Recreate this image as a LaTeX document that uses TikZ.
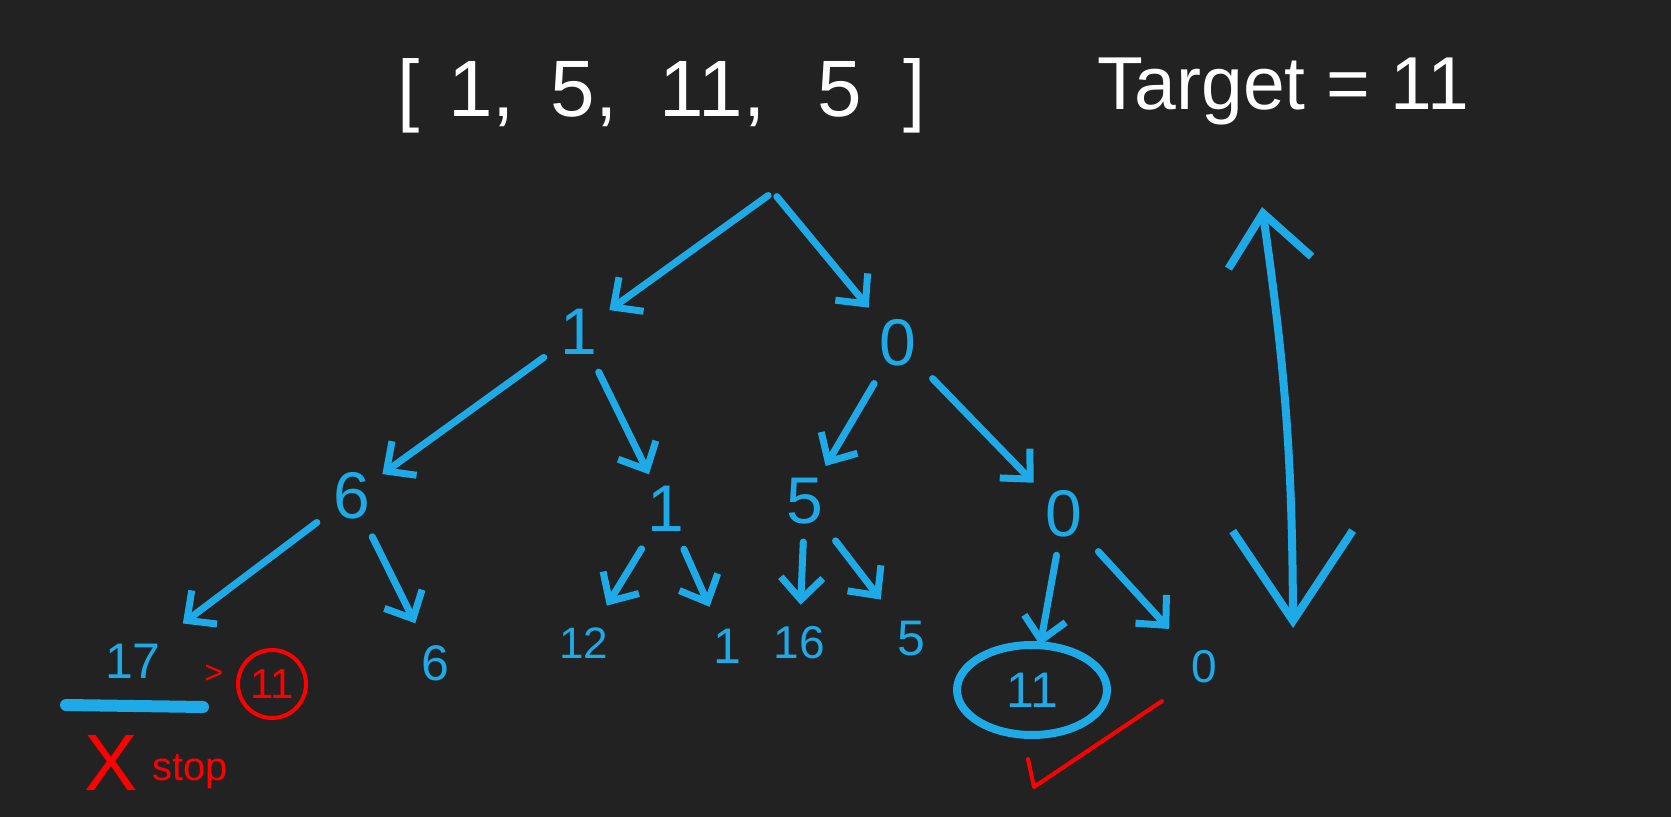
\documentclass[tikz,border=0pt]{standalone}
\usepackage{fontspec}
\setmainfont{Liberation Sans}
\usetikzlibrary{arrows.meta,shapes.geometric}
\definecolor{board}{RGB}{34,34,34}
\definecolor{chalkblue}{RGB}{29,170,230}
\definecolor{chalkred}{RGB}{255,0,0}
\tikzset{
	num/.style={text=chalkblue, font=\fontsize{33}{33}\selectfont, inner sep=3pt, outer sep=3pt},
	leaf/.style={text=chalkblue, font=\fontsize{25}{25}\selectfont, inner sep=3pt, outer sep=8pt},
	branch/.style={draw=chalkblue, line width=3.5pt, line cap=round, line join=round,
		shorten <=3pt, -{Straight Barb[length=11pt,width=21pt]}},
	redmark/.style={draw=chalkred, line width=2pt, line cap=round, line join=round},
	chalk/.style={text=white, anchor=base},
}

\begin{document}
\begin{tikzpicture}[x=0.5pt, y=-0.5pt]
			%%%%% START %%%%%
			
			\fill[board] (0, 0) rectangle (1671, 817);
			\useasboundingbox (0, 0) rectangle (1671, 817);
			
			\node[chalk, font=\fontsize{40}{40}\selectfont] (nums) at (662, 117)
				{[\hspace{14pt}1,\hspace{7pt} 5,\hspace{10pt} 11,\hspace{15pt} 5\hspace{21pt}]};
			\node[chalk, font=\fontsize{37.5}{37.5}\selectfont] (target) at (1283, 110) {Target = 11};
			
			\coordinate (top) at (773, 192);
			
			\node[num] (a1) at (579, 332) {1};
			\node[num] (a0) at (898, 343) {0};
			
			\node[num] (b6) at (352, 496) {6};
			\node[num] (b1) at (666, 509) {1};
			\node[num] (b5) at (805, 501) {5};
			\node[num] (b0) at (1064, 514) {0};
			
			\node[leaf] (c17) at (133, 661) {17};
			\node[leaf] (c6) at (435, 663) {6};
			\node[leaf, font=\fontsize{22}{22}\selectfont] (c12) at (584, 643) {12};
			\node[leaf] (c1) at (727, 646) {1};
			\node[leaf, font=\fontsize{23}{23}\selectfont] (c16) at (799, 643) {16};
			\node[leaf] (c5) at (911, 639) {5};
			\node[leaf, ellipse, draw=chalkblue, line width=4pt, outer sep=0pt,
				minimum width=75pt, minimum height=45pt] (c11) at (1032, 690) {11};
			\node[leaf, font=\fontsize{23}{23}\selectfont] (c0) at (1204, 667) {0};
			
			\draw[branch] (top) -- (a1);
			\draw[branch] (top) -- (a0);
			
			\draw[branch] (a1) -- (b6);
			\draw[branch] (a1) -- (b1);
			\draw[branch] (a0) -- (b5);
			\draw[branch] (a0) -- (b0);
			
			\draw[branch] (b6) -- (c17);
			\draw[branch] (b6) -- (c6);
			\draw[branch] (b1) -- (c12);
			\draw[branch] (b1) -- (c1);
			\draw[branch] (b5) -- (c16);
			\draw[branch] (b5) -- (c5);
			\draw[branch] (b0) -- (c11);
			\draw[branch] (b0) -- (c0);
			
			% going deeper / back up
			\coordinate (up) at (1262, 207);
			\coordinate (down) at (1293, 628);
			\draw[draw=chalkblue, line width=4pt, line cap=round,
				{Straight Barb[length=25pt,width=42pt]}-{Straight Barb[length=45pt,width=60pt]}]
				(up) to[bend left=4] (down);
			
			% sum too big
			\draw[draw=chalkblue, line width=6pt, line cap=round] (66, 705) -- (203, 707);
			\node[text=chalkred, font=\fontsize{16}{16}\selectfont] (gt) at (214, 674) {>};
			\node[circle, draw=chalkred, line width=2pt, minimum size=34pt, inner sep=0pt,
				text=chalkred, font=\fontsize{21}{21}\selectfont] (lim) at (272, 684) {11};
			\node[text=chalkred, font=\fontsize{40}{40}\selectfont] (cross) at (111, 763) {X};
			\node[text=chalkred, font=\fontsize{20}{20}\selectfont] (stop) at (190, 772) {stop};
			
			% found it
			\draw[redmark] (1028, 759) -- (1034, 787) -- (1162, 701);
			
			%%%%% END %%%%%
\end{tikzpicture}
\end{document}
